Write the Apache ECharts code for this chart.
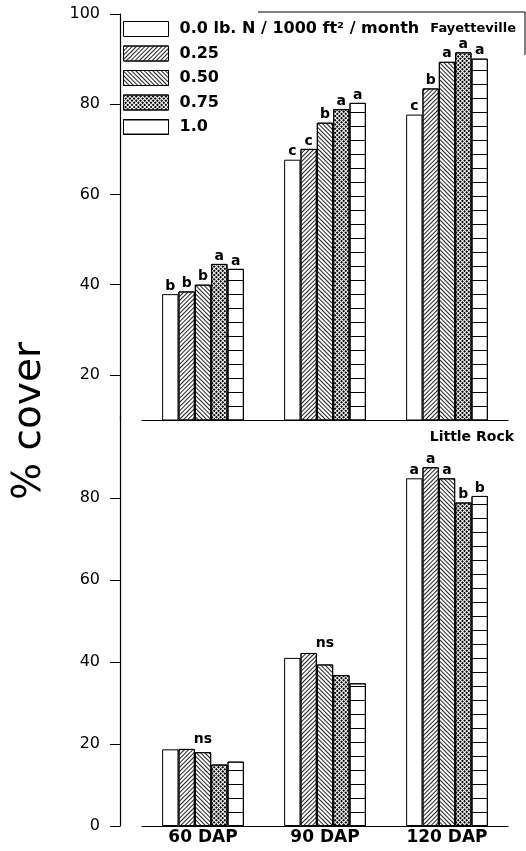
<!DOCTYPE html>
<html>
<head>
<meta charset="utf-8">
<script src="https://cdn.jsdelivr.net/npm/echarts@6/dist/echarts.min.js"></script>
<style>html,body{margin:0;padding:0;background:#fff}#c{width:526px;height:851px}</style>
</head>
<body>
<div id="c"></div>
<script>
const categories = ['60 DAP', '90 DAP', '120 DAP'];
const seriesNames = ['0.0 lb. N / 1000 ft\u00B2 / month', '0.25', '0.50', '0.75', '1.0'];
const yTicksTop = [20, 40, 60, 80, 100];
const yTicksBottom = [0, 20, 40, 60, 80];

// Fayetteville (top panel)
const fay00 = [37.9, 67.7, 77.7];
const fay025 = [38.5, 70.1, 83.5];
const fay050 = [40.0, 75.9, 89.4];
const fay075 = [44.6, 78.9, 91.5];
const fay10 = [43.5, 80.3, 90.1];
const fayLetters00 = ['b', 'c', 'c'];
const fayLetters025 = ['b', 'c', 'b'];
const fayLetters050 = ['b', 'b', 'a'];
const fayLetters075 = ['a', 'a', 'a'];
const fayLetters10 = ['a', 'a', 'a'];

// Little Rock (bottom panel)
const lr00 = [18.7, 41.0, 84.8];
const lr025 = [18.8, 42.2, 87.5];
const lr050 = [18.0, 39.4, 84.8];
const lr075 = [15.0, 36.8, 78.9];
const lr10 = [15.7, 34.8, 80.5];
const lrLetters00 = ['', '', 'a'];
const lrLetters025 = ['', '', 'a'];
const lrLetters050 = ['', '', 'a'];
const lrLetters075 = ['', '', 'b'];
const lrLetters10 = ['', '', 'b'];
const lrGroupNote = ['ns', 'ns', ''];

const FONT = '"DejaVu Sans", Verdana, sans-serif';

const decals = [
  null,
  { symbol: 'rect', color: '#222', dashArrayX: [1, 0], dashArrayY: [1, 2], rotation: -Math.PI / 4 },
  { symbol: 'rect', color: '#222', dashArrayX: [1, 0], dashArrayY: [1, 2], rotation: Math.PI / 4 },
  { symbol: 'rect', color: '#000', dashArrayX: [2, 1], dashArrayY: [2, 1], rotation: Math.PI / 4 },
  { symbol: 'rect', color: '#000', dashArrayX: [1, 0], dashArrayY: [1, 13], rotation: 0 }
];

function barSeries(idx, values, letters, grid) {
  const itemStyle = { color: '#fff', borderColor: '#000', borderWidth: 1 };
  if (decals[idx]) itemStyle.decal = decals[idx];
  return {
    type: 'bar',
    name: seriesNames[idx],
    xAxisIndex: grid,
    yAxisIndex: grid,
    barGap: '0%',
    barCategoryGap: '33%',
    itemStyle: itemStyle,
    emphasis: { disabled: true },
    label: {
      show: true,
      position: 'top',
      distance: 1,
      color: '#000',
      fontFamily: FONT,
      fontWeight: 'bold',
      fontSize: 14,
      formatter: p => letters[p.dataIndex]
    },
    data: values
  };
}

const fayAll = [fay00, fay025, fay050, fay075, fay10];
const fayLet = [fayLetters00, fayLetters025, fayLetters050, fayLetters075, fayLetters10];
const lrAll = [lr00, lr025, lr050, lr075, lr10];
const lrLet = [lrLetters00, lrLetters025, lrLetters050, lrLetters075, lrLetters10];

const series = [];
fayAll.forEach((v, i) => series.push(barSeries(i, v, fayLet[i], 0)));
lrAll.forEach((v, i) => series.push(barSeries(i, v, lrLet[i], 1)));

// "ns" notes above the tallest bar of a group
const nsData = categories.map((c, i) => lrGroupNote[i] ? [c, Math.max(...lrAll.map(s => s[i]))] : null).filter(d => d);
series.push({
  type: 'scatter',
  xAxisIndex: 1,
  yAxisIndex: 1,
  symbolSize: 0,
  silent: true,
  itemStyle: { opacity: 1, color: '#000' },
  label: {
    show: true, position: 'top', distance: 3, color: '#000', opacity: 1,
    fontFamily: FONT, fontWeight: 'bold', fontSize: 14,
    formatter: p => lrGroupNote[categories.indexOf(p.value[0])]
  },
  data: nsData
});

const yAxisCommon = {
  type: 'value',
  offset: 22,
  axisLine: { show: true, lineStyle: { color: '#000', width: 1.2 } },
  splitLine: { show: false },
  axisLabel: { color: '#000', fontFamily: FONT, fontSize: 16, margin: 20 }
};

const option = {
  animation: false,
  backgroundColor: '#fff',
  title: [
    { text: 'Fayetteville', right: 5, top: 17, textStyle: { fontFamily: FONT, fontWeight: 'bold', fontSize: 13, color: '#000' } },
    { text: 'Little Rock', right: 7, top: 425, textStyle: { fontFamily: FONT, fontWeight: 'bold', fontSize: 14, color: '#000' } }
  ],
  legend: {
    left: 118,
    top: 16,
    orient: 'vertical',
    itemWidth: 45,
    itemHeight: 15,
    itemGap: 8.5,
    selectedMode: false,
    icon: 'rect',
    itemStyle: { borderColor: '#000', borderWidth: 1 },
    textStyle: { fontFamily: FONT, fontWeight: 'bold', fontSize: 16, color: '#000', padding: [0, 0, 0, 6] },
    data: seriesNames
  },
  grid: [
    { left: 142, right: 18, top: 14, height: 406 },
    { left: 142, right: 18, top: 416, height: 410 }
  ],
  xAxis: [
    { type: 'category', gridIndex: 0, data: categories, axisLine: { lineStyle: { color: '#000', width: 1.2 } }, axisTick: { show: false }, axisLabel: { show: false } },
    { type: 'category', gridIndex: 1, data: categories, axisLine: { lineStyle: { color: '#000', width: 1.2 } }, axisTick: { show: false },
      axisLabel: { color: '#000', fontFamily: FONT, fontWeight: 'bold', fontSize: 17, margin: 3 } }
  ],
  yAxis: [
    Object.assign({}, yAxisCommon, { gridIndex: 0, min: 10, max: 100,
      axisTick: { show: true, length: 10, lineStyle: { color: '#000' }, customValues: yTicksTop },
      axisLabel: Object.assign({}, yAxisCommon.axisLabel, { customValues: yTicksTop }) }),
    Object.assign({}, yAxisCommon, { gridIndex: 1, min: 0, max: 100,
      axisTick: { show: true, length: 10, lineStyle: { color: '#000' }, customValues: yTicksBottom },
      axisLabel: Object.assign({}, yAxisCommon.axisLabel, { customValues: yTicksBottom }) })
  ],
  graphic: [
    { type: 'text', x: 30, y: 421, rotation: Math.PI / 2,
      style: { text: '% cover', fontFamily: FONT, fontSize: 39, fill: '#000', align: 'center', verticalAlign: 'middle' } },
    { type: 'polyline', shape: { points: [[258, 12], [525, 12], [525, 55]] }, style: { stroke: '#000', lineWidth: 1, fill: null } }
  ],
  series: series
};

const chart = echarts.init(document.getElementById('c'));
chart.setOption(option);
</script>
</body>
</html>
